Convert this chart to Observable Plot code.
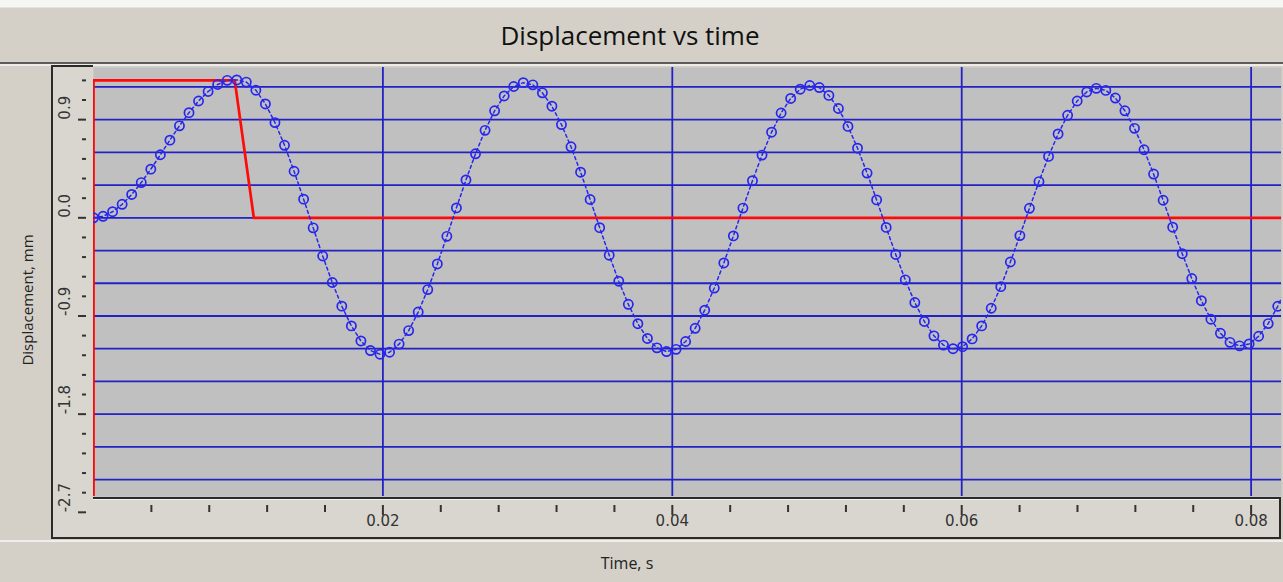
<!DOCTYPE html>
<html>
<head>
<meta charset="utf-8">
<script src="https://cdn.jsdelivr.net/npm/d3@7"></script>
<script src="https://cdn.jsdelivr.net/npm/@observablehq/plot@0.6"></script>
<style>
  html, body { margin: 0; padding: 0; }
  body { width: 1283px; height: 582px; position: relative; overflow: hidden; background: #d4d0c8; font-family: "Open Sans", "Noto Sans", sans-serif; }
  .abs { position: absolute; }
  #title { left: 0; top: 8px; width: 1260px; height: 55px; line-height: 55px; text-align: center; font-size: 26px; color: #111; }
  #ylabel { left: 27px; top: 300px; transform: translate(-50%, -50%) rotate(-90deg); white-space: nowrap; font-size: 15px; color: #222; }
  #xlabel { left: 627px; top: 563px; transform: translate(-50%, -50%); white-space: nowrap; font-size: 16px; color: #222; }
  #chart { left: 0; top: 64px; }
</style>
</head>
<body>
<div class="abs" style="left:0;top:0;width:1283px;height:7px;background:#f6f6f4"></div>
<div class="abs" style="left:0;top:7px;width:1283px;height:1px;background:#e6e4e0"></div>
<div class="abs" style="left:0;top:62px;width:1283px;height:2px;background:#5c5c5c"></div>
<div class="abs" style="left:0;top:64px;width:1283px;height:2px;background:#ecebe7"></div>
<div class="abs" id="title">Displacement vs time</div>
<div class="abs" id="ylabel">Displacement, mm</div>
<div class="abs" style="left:51px;top:65px;width:40px;height:470px;border-left:2px solid #2a2a2a;border-top:2px solid #2a2a2a;border-bottom:2px solid #2a2a2a;background:#d9d6cf"></div>
<div class="abs" style="left:93px;top:497px;width:1186px;height:38px;border-top:2px solid #2a2a2a;border-right:2px solid #2a2a2a;border-bottom:2px solid #2a2a2a;background:#d9d6cf;box-shadow: inset 0 1px 0 #f4f4f2"></div>
<div class="abs" style="left:0;top:540px;width:1283px;height:2px;background:#efeeea"></div>
<div class="abs" id="xlabel">Time, s</div>
<div class="abs" id="chart"></div>
<script>
// ---- data ----
const times = [0, 0.00066, 0.00132, 0.00198, 0.00264, 0.0033, 0.00396, 0.00462, 0.00528, 0.00594,
  0.0066, 0.00726, 0.00792, 0.00858, 0.00924, 0.0099, 0.01056, 0.01122, 0.01188, 0.01254,
  0.0132, 0.01386, 0.01452, 0.01518, 0.01584, 0.0165, 0.01716, 0.01782, 0.01848, 0.01914,
  0.0198, 0.02046, 0.02112, 0.02178, 0.02244, 0.0231, 0.02376, 0.02442, 0.02508, 0.02574,
  0.0264, 0.02706, 0.02772, 0.02838, 0.02904, 0.0297, 0.03036, 0.03102, 0.03168, 0.03234,
  0.033, 0.03366, 0.03432, 0.03498, 0.03564, 0.0363, 0.03696, 0.03762, 0.03828, 0.03894,
  0.0396, 0.04026, 0.04092, 0.04158, 0.04224, 0.0429, 0.04356, 0.04422, 0.04488, 0.04554,
  0.0462, 0.04686, 0.04752, 0.04818, 0.04884, 0.0495, 0.05016, 0.05082, 0.05148, 0.05214,
  0.0528, 0.05346, 0.05412, 0.05478, 0.05544, 0.0561, 0.05676, 0.05742, 0.05808, 0.05874,
  0.0594, 0.06006, 0.06072, 0.06138, 0.06204, 0.0627, 0.06336, 0.06402, 0.06468, 0.06534,
  0.066, 0.06666, 0.06732, 0.06798, 0.06864, 0.0693, 0.06996, 0.07062, 0.07128, 0.07194,
  0.0726, 0.07326, 0.07392, 0.07458, 0.07524, 0.0759, 0.07656, 0.07722, 0.07788, 0.07854,
  0.0792, 0.07986, 0.08052, 0.08118, 0.08184, 0.0825];
const displacement = [0, 0.014, 0.056, 0.124, 0.214, 0.323, 0.446, 0.578, 0.712, 0.843,
  0.964, 1.071, 1.158, 1.222, 1.260, 1.264, 1.244, 1.170, 1.044, 0.873,
  0.665, 0.427, 0.171, -0.092, -0.350, -0.593, -0.810, -0.991, -1.129, -1.217,
  -1.251, -1.232, -1.158, -1.034, -0.864, -0.658, -0.423, -0.170, 0.091, 0.347,
  0.587, 0.802, 0.981, 1.117, 1.204, 1.239, 1.219, 1.146, 1.023, 0.855,
  0.651, 0.418, 0.168, -0.090, -0.343, -0.581, -0.793, -0.971, -1.106, -1.192,
  -1.226, -1.206, -1.134, -1.013, -0.847, -0.644, -0.414, -0.166, 0.089, 0.340,
  0.575, 0.785, 0.961, 1.094, 1.179, 1.213, 1.194, 1.122, 1.002, 0.838,
  0.638, 0.410, 0.164, -0.088, -0.336, -0.569, -0.777, -0.950, -1.082, -1.167,
  -1.200, -1.181, -1.110, -0.991, -0.829, -0.631, -0.405, -0.163, 0.087, 0.332,
  0.563, 0.769, 0.940, 1.071, 1.154, 1.187, 1.168, 1.098, 0.981, 0.820,
  0.624, 0.401, 0.161, -0.086, -0.329, -0.557, -0.760, -0.930, -1.059, -1.142,
  -1.174, -1.156, -1.086, -0.970, -0.811, -0.617];
const pulseTimes = [0, 0, 0.00976, 0.01108, 0.0821];
const pulseValues = [-2.7, 1.26, 1.26, 0, 0];
const gridY = [1.2, 0.9, 0.6, 0.3, 0, -0.3, -0.6, -0.9, -1.2, -1.5, -1.8, -2.1, -2.4];
const gridX = [0.02, 0.04, 0.06, 0.08];
const yMajorTicks = [0.9, 0, -0.9, -1.8, -2.7];
const yTickLabels = ["0.9", "0.0", "-0.9", "-1.8", "-2.7"];
const yMinorTicks = [1.26, 1.08, 0.72, 0.54, 0.36, 0.18, -0.18, -0.36, -0.54, -0.72,
  -1.08, -1.26, -1.44, -1.62, -1.98, -2.16, -2.34, -2.52];
const xMajorTicks = [0.02, 0.04, 0.06, 0.08];
const xTickLabels = ["0.02", "0.04", "0.06", "0.08"];
const xMinorTicks = [0.004, 0.008, 0.012, 0.016, 0.024, 0.028, 0.032, 0.036,
  0.044, 0.048, 0.052, 0.056, 0.064, 0.068, 0.072, 0.076];

// ---- build tables ----
const series = times.map((t, i) => ({t, d: displacement[i]}));
const pulse = pulseTimes.map((t, i) => ({t, d: pulseValues[i]}));

const GRID = "#2222c4";
const MARK = "#2626ee";
const INK = "#333333";
const tickFont = "DejaVu Sans, sans-serif";

const chart = Plot.plot({
  width: 1283,
  height: 478,
  marginLeft: 93,
  marginRight: 2,
  marginTop: 3,
  marginBottom: 46,
  x: {domain: [0, 0.0821], axis: null},
  y: {domain: [-2.555, 1.378], axis: null},
  style: {background: "transparent", overflow: "visible"},
  marks: [
    Plot.frame({fill: "#c0c0c0", stroke: "none"}),
    Plot.ruleY(gridY, {stroke: GRID, strokeWidth: 1.8}),
    Plot.ruleX(gridX, {stroke: GRID, strokeWidth: 1.8}),
    Plot.line(pulse, {x: "t", y: "d", stroke: "#ff0a0a", strokeWidth: 2.7, clip: true}),
    Plot.line(series, {x: "t", y: "d", stroke: MARK, strokeWidth: 1.5, strokeDasharray: "3,3", clip: true}),
    Plot.dot(series, {x: "t", y: "d", r: 4.6, stroke: MARK, strokeWidth: 1.7, fill: "none", clip: true}),
    Plot.axisY(yMinorTicks, {anchor: "left", tickSize: 4, dx: -7, tickFormat: () => "", stroke: INK, strokeWidth: 2, label: null}),
    Plot.axisY(yMajorTicks, {anchor: "left", tickSize: 8, dx: -7, tickFormat: () => "", stroke: INK, strokeWidth: 2, label: null}),
    Plot.text(yMajorTicks, {y: d => d, text: (d, i) => yTickLabels[i], frameAnchor: "left", dx: -28, rotate: -90,
      fontSize: 15, fontFamily: tickFont, fill: INK}),
    Plot.axisX(xMinorTicks, {anchor: "bottom", tickSize: 7, dy: 9, tickFormat: () => "", stroke: INK, strokeWidth: 2, label: null}),
    Plot.axisX(xMajorTicks, {anchor: "bottom", tickSize: 10, dy: 9, tickFormat: () => "", stroke: INK, strokeWidth: 2, label: null}),
    Plot.text(xMajorTicks, {x: d => d, text: (d, i) => xTickLabels[i], frameAnchor: "bottom", dy: 29,
      fontSize: 15, fontFamily: tickFont, fill: INK})
  ]
});
document.getElementById("chart").appendChild(chart);
</script>
</body>
</html>
